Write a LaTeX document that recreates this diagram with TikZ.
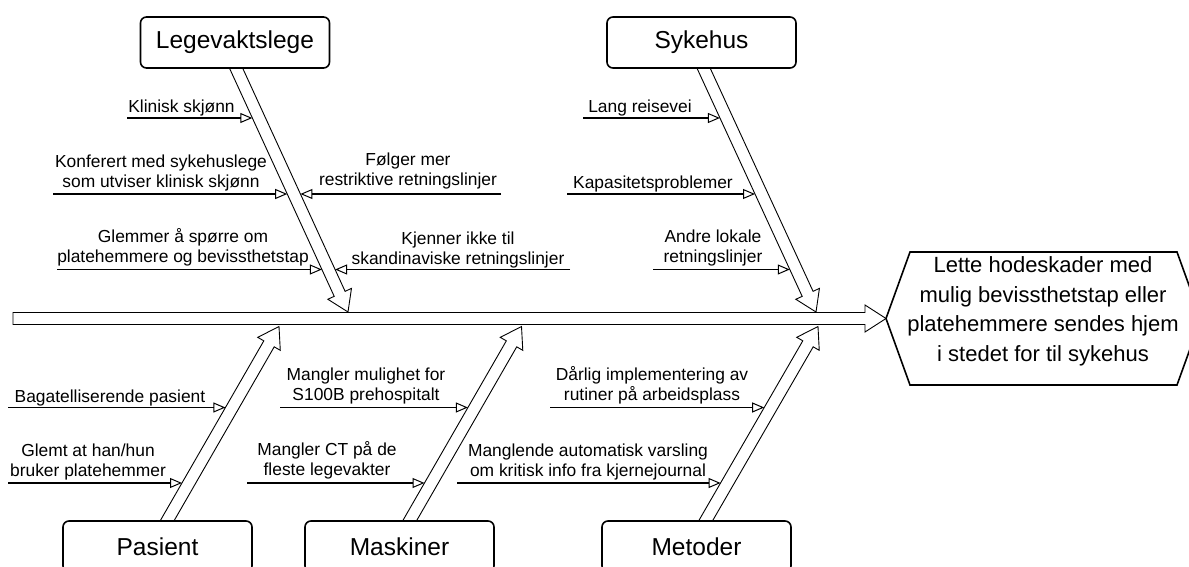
\documentclass[tikz,border=0pt]{standalone}
\usepackage{fontspec}
\setmainfont{Liberation Sans}
\usetikzlibrary{calc,arrows.meta}
\tikzset{
  catbox/.style={draw, line width=1.6pt, rounded corners=6pt, fill=white,
    minimum width=189pt, minimum height=51pt, inner sep=0pt,
    font=\fontsize{24.5}{29}\selectfont},
  causetext/.style={align=center, inner sep=0pt, anchor=base,
    font=\fontsize{17.4}{20}\selectfont},
  causeline/.style={line width=1.3pt, -{Triangle[open, length=12pt, width=10pt, line width=1pt]}},
  boneline/.style={line width=0.9pt, line join=miter, fill=white},
  effectshape/.style={line width=1.6pt, line join=miter},
  hextext/.style={align=center, inner sep=0pt, anchor=base,
    font=\fontsize{22}{29.7}\selectfont},
}
% #1 start, #2 tip, #3 shaft half width, #4 head half width, #5 tail extension
\newcommand\fishbone[5]{%
  \coordinate (bS) at ($(#1)!-#5!(#2)$);
  \coordinate (bH) at ($(#2)!20pt!(#1)$);
  \draw[boneline] ($(bS)!#3!90:(#2)$) -- ($(bH)!#3!90:(#2)$) -- ($(bH)!#4!90:(#2)$)
    -- (#2) -- ($(bH)!#4!-90:(#2)$) -- ($(bH)!#3!-90:(#2)$) -- ($(bS)!#3!-90:(#2)$) -- cycle;
}
\begin{document}
\begin{tikzpicture}[x=1pt,y=-1pt]
\useasboundingbox[fill=white] (0,0) rectangle (1189,567);

% bone coordinates
\coordinate (legB) at (236,68);    \coordinate (legT) at (348,312);
\coordinate (sykB) at (703.5,68);  \coordinate (sykT) at (816,312);
\coordinate (pasB) at (167,521);   \coordinate (pasT) at (279,326.5);
\coordinate (masB) at (409.5,521); \coordinate (masT) at (521.5,326.5);
\coordinate (metB) at (705.5,521); \coordinate (metT) at (818,326.5);
\coordinate (tail) at (13,318.5);  \coordinate (effL) at (886,318.5);

% bones
\fishbone{legB}{legT}{6pt}{13pt}{8pt}
\fishbone{sykB}{sykT}{6pt}{13pt}{8pt}
\fishbone{pasB}{pasT}{6pt}{13pt}{8pt}
\fishbone{masB}{masT}{6pt}{13pt}{8pt}
\fishbone{metB}{metT}{6pt}{13pt}{8pt}
% spine
\draw[boneline] (13,312.5) -- (865,312.5) -- (865,305) -- (effL) -- (865,332) -- (865,324.5) -- (13,324.5) -- cycle;

% category boxes
\node[catbox] (leg) at (235,42.5) {Legevaktslege};
\node[catbox] (syk) at (701.5,42.5) {Sykehus};
\node[catbox] (pas) at (157.5,546.5) {Pasient};
\node[catbox] (mas) at (399.5,546.5) {Maskiner};
\node[catbox] (met) at (696.5,546.5) {Metoder};

% effect hexagon
\node[hextext] (effect) at (1043,361.5) {Lette hodeskader med\\mulig bevissthetstap eller\\platehemmere sendes hjem\\i stedet for til sykehus};
\draw[effectshape] (effL) -- (910,252) -- (1177,252) -- (1201,318.5) -- (1177,385) -- (910,385) -- cycle;

% causes
\node[causetext] (c1) at (181.5,112.5) {Klinisk skjønn};
\coordinate (c1s) at (127,118); \coordinate (c1t) at (252.3,118);
\draw[causeline] (c1s) -- (c1t);

\node[causetext] (c2) at (161,187.2) {Konferert med sykehuslege\\som utviser klinisk skjønn};
\coordinate (c2s) at (53,194); \coordinate (c2t) at (287.2,194);
\draw[causeline] (c2s) -- (c2t);

\node[causetext] (c3) at (183,262.5) {Glemmer å spørre om\\platehemmere og bevissthetstap};
\coordinate (c3s) at (57,269.5); \coordinate (c3t) at (321.9,269.5);
\draw[causeline] (c3s) -- (c3t);

\node[causetext] (c4) at (408,185.5) {Følger mer\\restriktive retningslinjer};
\coordinate (c4s) at (501,194); \coordinate (c4t) at (300.4,194);
\draw[causeline] (c4s) -- (c4t);

\node[causetext] (c5) at (458,264.5) {Kjenner ikke til\\skandinaviske retningslinjer};
\coordinate (c5s) at (570,269.5); \coordinate (c5t) at (335.1,269.5);
\draw[causeline] (c5s) -- (c5t);

\node[causetext] (c6) at (640,112.5) {Lang reisevei};
\coordinate (c6s) at (583,118); \coordinate (c6t) at (719.9,118);
\draw[causeline] (c6s) -- (c6t);

\node[causetext] (c7) at (653,188.5) {Kapasitetsproblemer};
\coordinate (c7s) at (567,194); \coordinate (c7t) at (755,194);
\draw[causeline] (c7s) -- (c7t);

\node[causetext] (c8) at (713,262.5) {Andre lokale\\retningslinjer};
\coordinate (c8s) at (653,269.5); \coordinate (c8t) at (789.8,269.5);
\draw[causeline] (c8s) -- (c8t);

\node[causetext] (c9) at (110,402.5) {Bagatelliserende pasient};
\coordinate (c9s) at (8,407.5); \coordinate (c9t) at (225.4,407.5);
\draw[causeline] (c9s) -- (c9t);

\node[causetext] (c10) at (88,476.5) {Glemt at han/hun\\bruker platehemmer};
\coordinate (c10s) at (8,483); \coordinate (c10t) at (182,483);
\draw[causeline] (c10s) -- (c10t);

\node[causetext] (c11) at (366,400.5) {Mangler mulighet for\\S100B prehospitalt};
\coordinate (c11s) at (280,407.5); \coordinate (c11t) at (467.9,407.5);
\draw[causeline] (c11s) -- (c11t);

\node[causetext] (c12) at (327,475.5) {Mangler CT på de\\fleste legevakter};
\coordinate (c12s) at (247,483); \coordinate (c12t) at (424.5,483);
\draw[causeline] (c12s) -- (c12t);

\node[causetext] (c13) at (652,400.5) {Dårlig implementering av\\rutiner på arbeidsplass};
\coordinate (c13s) at (550,407.5); \coordinate (c13t) at (764.2,407.5);
\draw[causeline] (c13s) -- (c13t);

\node[causetext] (c14) at (588,476.5) {Manglende automatisk varsling\\om kritisk info fra kjernejournal};
\coordinate (c14s) at (457,483); \coordinate (c14t) at (720.6,483);
\draw[causeline] (c14s) -- (c14t);
\end{tikzpicture}
\end{document}
